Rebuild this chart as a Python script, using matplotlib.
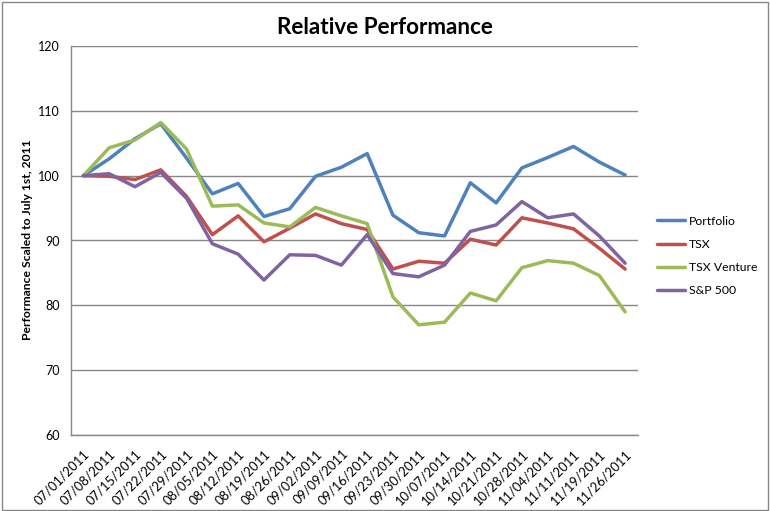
import matplotlib
matplotlib.use("Agg")
import matplotlib.pyplot as plt
from matplotlib.patches import Rectangle

dates = ["07/01/2011", "07/08/2011", "07/15/2011", "07/22/2011", "07/29/2011",
         "08/05/2011", "08/12/2011", "08/19/2011", "08/26/2011", "09/02/2011",
         "09/09/2011", "09/16/2011", "09/23/2011", "09/30/2011", "10/07/2011",
         "10/14/2011", "10/21/2011", "10/28/2011", "11/04/2011", "11/11/2011",
         "11/19/2011", "11/26/2011"]

portfolio = [100, 102.6, 105.7, 108.0, 102.7, 97.2, 98.8, 93.7, 94.9, 99.9, 101.3,
             103.4, 93.9, 91.2, 90.7, 98.9, 95.8, 101.2, 102.8, 104.5, 102.1, 100.1]
tsx = [100, 99.9, 99.4, 100.9, 96.8, 90.9, 93.8, 89.8, 91.9, 94.1, 92.6,
       91.7, 85.6, 86.8, 86.5, 90.2, 89.3, 93.5, 92.7, 91.8, 88.8, 85.6]
tsx_venture = [100, 104.3, 105.5, 108.2, 104.1, 95.3, 95.5, 92.7, 92.1, 95.1, 93.8,
               92.6, 81.3, 77.0, 77.4, 81.9, 80.7, 85.8, 86.9, 86.5, 84.6, 79.0]
sp500 = [100, 100.3, 98.3, 100.5, 96.5, 89.5, 87.9, 83.9, 87.8, 87.7, 86.2,
         90.9, 84.9, 84.4, 86.2, 91.4, 92.4, 96.0, 93.5, 94.1, 90.7, 86.5]

series = [("Portfolio", portfolio, "#4F81BD"),
          ("TSX", tsx, "#C0504D"),
          ("TSX Venture", tsx_venture, "#9BBB59"),
          ("S&P 500", sp500, "#8064A2")]

yticks = [60, 70, 80, 90, 100, 110, 120]

plt.rcParams['font.family'] = ['Lato', 'DejaVu Sans']

fig = plt.figure(figsize=(7.7, 5.11), dpi=100)
ax = fig.add_axes([70.5/770, 1-435/511, 567.5/770, 389/511])

x = list(range(len(dates)))
for name, vals, col in series:
    ax.plot(x, vals, color=col, lw=2.5, label=name, solid_capstyle='round',
            solid_joinstyle='round')

ax.set_xlim(-0.5, len(dates) - 0.5)
ax.set_ylim(60, 120)
ax.set_yticks(yticks)
ax.set_yticklabels([str(t) for t in yticks], fontsize=9)
ax.set_xticks(x)
ax.set_xticklabels(dates, rotation=45, ha='right', rotation_mode='anchor', fontsize=9.3)
ax.tick_params(axis='x', length=0, pad=9)
ax.tick_params(axis='y', length=0, pad=8)
ax.grid(axis='y', color='#868686', lw=1)
ax.set_axisbelow(True)
for s in ['top', 'right']:
    ax.spines[s].set_visible(False)
for s in ['left', 'bottom']:
    ax.spines[s].set_color('#868686')
    ax.spines[s].set_linewidth(1)

fig.text(27.5/770, 1-240/511, "Performance Scaled to July 1st, 2011", rotation=90,
         ha='center', va='center', fontsize=8.7, fontweight='bold')
fig.text(385/770, 1-28/511, "Relative Performance", ha='center', va='center',
         fontsize=16.2, fontweight='bold')

fig.legend(loc='center left', bbox_to_anchor=(657/770, 1-256/511), frameon=False,
           fontsize=8.8, handlelength=2.3, handletextpad=0.3, labelspacing=1.0,
           borderpad=0, borderaxespad=0)

fig.patches.append(Rectangle((1.5/770, 1.5/511), 766.5/770, 508/511, transform=fig.transFigure,
                             fill=False, edgecolor='#868686', lw=1))

fig.savefig("out.png", dpi=100)
